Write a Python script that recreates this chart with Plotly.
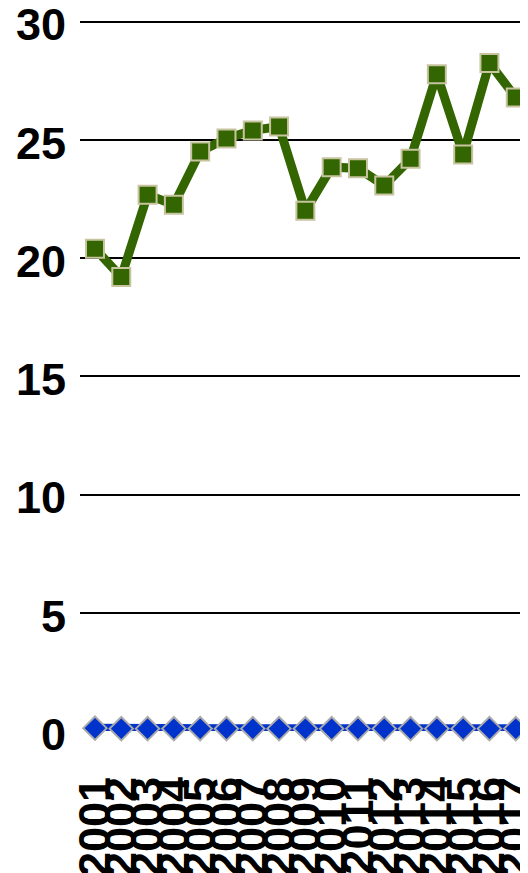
import plotly.graph_objects as go

years = ["2001", "2002", "2003", "2004", "2005", "2006", "2007", "2008", "2009",
         "2010", "2011", "2012", "2013", "2014", "2015", "2016", "2017"]
green_values = [20.4, 19.2, 22.68, 22.26, 24.51, 25.06, 25.4, 25.57, 22.0,
                23.85, 23.8, 23.07, 24.2, 27.78, 24.38, 28.25, 26.8]
blue_values = [0.12, 0.1, 0.1, 0.1, 0.1, 0.1, 0.1, 0.1, 0.1,
               0.1, 0.1, 0.1, 0.1, 0.1, 0.1, 0.1, 0.1]
y_ticks = [0, 5, 10, 15, 20, 25, 30]

x_idx = list(range(len(years)))

fig = go.Figure()
fig.add_trace(go.Scatter(
    x=x_idx, y=blue_values, mode="lines+markers",
    line=dict(color="#0033cc", width=9),
    marker=dict(symbol="diamond", size=18, color="#0033cc",
                line=dict(color="#aaaaaa", width=2)),
    cliponaxis=False, showlegend=False,
))
fig.add_trace(go.Scatter(
    x=x_idx, y=green_values, mode="lines+markers",
    line=dict(color="#336600", width=9),
    marker=dict(symbol="square", size=18, color="#336600",
                line=dict(color="#c8c4a0", width=2)),
    cliponaxis=False, showlegend=False,
))

tf = dict(family="Liberation Sans, Arial, sans-serif", size=45, color="#000000", weight="bold")

fig.update_layout(
    width=528, height=873,
    margin=dict(l=72, r=0, t=9, b=150),
    paper_bgcolor="white", plot_bgcolor="white",
    font=dict(family="Liberation Sans, Arial, sans-serif", size=45, color="#000000"),
    xaxis=dict(
        tickmode="array", tickvals=x_idx, ticktext=years,
        tickangle=-90, range=[-0.57, 16.77],
        showgrid=False, zeroline=False, showline=False,
        tickfont=tf, automargin=False,
        ticklabelstandoff=36, ticklabeloverflow="allow",
    ),
    yaxis=dict(
        tickmode="array", tickvals=y_ticks, range=[0, 30.2],
        showgrid=True, gridcolor="#000000", gridwidth=1.5,
        zeroline=False, showline=False,
        tickfont=tf, automargin=False,
        ticklabelstandoff=13, ticklabelshift=3,
        ticklabeloverflow="allow",
    ),
)

fig.write_html("out.html")
